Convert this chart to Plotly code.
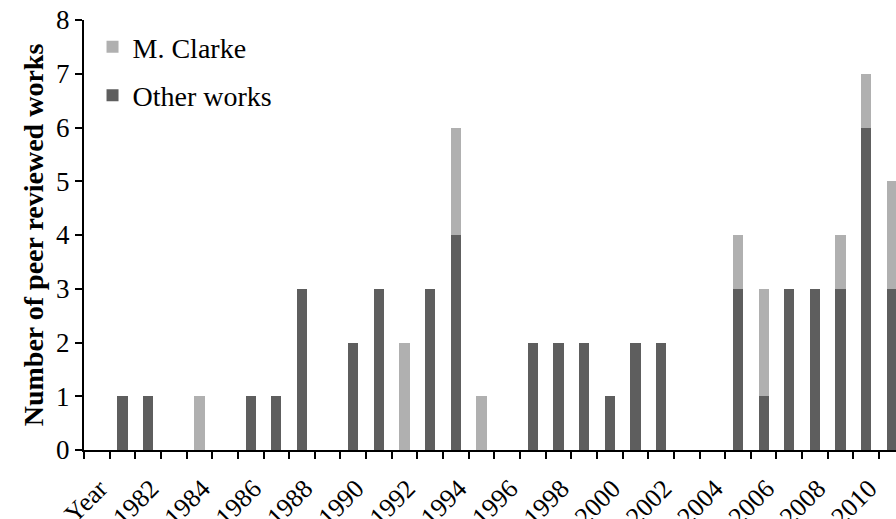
import plotly.graph_objects as go

categories = ["Year"] + [str(y) for y in range(1981, 2012)]
other_works = [0, 1, 1, 0, 0, 0, 1, 1, 3, 0, 2, 3, 0, 3, 4, 0,
               0, 2, 2, 2, 1, 2, 2, 0, 0, 3, 1, 3, 3, 3, 6, 3]
m_clarke = [0, 0, 0, 0, 1, 0, 0, 0, 0, 0, 0, 0, 2, 0, 2, 1,
            0, 0, 0, 0, 0, 0, 0, 0, 0, 1, 2, 0, 0, 1, 1, 2]
tick_labels = categories[::2]
y_ticks = list(range(0, 9))

x_idx = list(range(len(categories)))

FONT = "Liberation Serif, Times New Roman, serif"

fig = go.Figure()
fig.add_trace(go.Bar(x=x_idx, y=other_works, name="Other works",
                     marker=dict(color="#5e5e5e", line=dict(width=0)),
                     width=0.4, legendgroup="b", legendrank=2))
fig.add_trace(go.Bar(x=x_idx, y=m_clarke, name="M. Clarke",
                     marker=dict(color="#b0b0b0", line=dict(width=0)),
                     width=0.4, legendgroup="a", legendrank=1))

fig.update_layout(
    barmode="stack",
    width=896, height=519,
    margin=dict(l=84, r=0, t=20, b=69),
    plot_bgcolor="white", paper_bgcolor="white",
    font=dict(family=FONT, size=27, color="black"),
    showlegend=True,
    legend=dict(x=0.0105, y=0.995, xanchor="left", yanchor="top",
                traceorder="grouped", tracegroupgap=9,
                font=dict(size=28), bgcolor="rgba(0,0,0,0)"),
    xaxis=dict(
        range=[-0.5, 31.16],
        tickmode="array",
        tickvals=x_idx[::2],
        ticktext=tick_labels,
        tickangle=-45,
        ticks="", ticklen=0,
        ticklabelstandoff=11,
        ticklabelshift=3,
        showline=True, linecolor="black", linewidth=2,
        showgrid=False, zeroline=False,
        automargin=False,
        tickfont=dict(size=26),
        minor=dict(tick0=-0.5, dtick=1, ticks="outside", ticklen=7,
                   tickwidth=2, tickcolor="black", showgrid=False),
    ),
    yaxis=dict(
        range=[0, 8],
        tickmode="array",
        tickvals=y_ticks,
        ticks="outside", ticklen=7, tickwidth=2, tickcolor="black",
        showline=True, linecolor="black", linewidth=2,
        showgrid=False, zeroline=False,
        automargin=False,
        tickfont=dict(size=27),
        title=dict(text="<b>Number of peer reviewed works</b>",
                   font=dict(size=28), standoff=4),
    ),
)

fig.write_html("out.html",
               config={"displayModeBar": False},
               post_script="document.body.style.margin='0';")
